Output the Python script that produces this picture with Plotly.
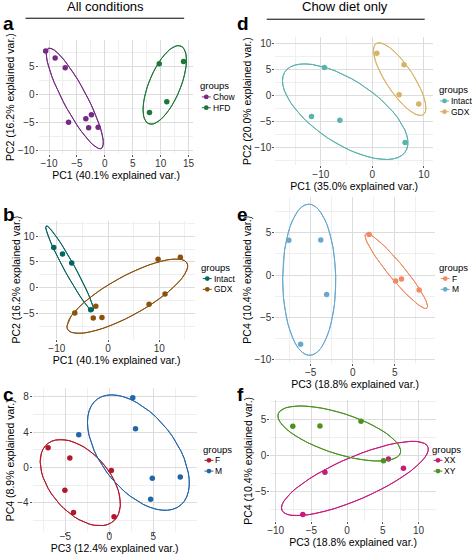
import numpy as np
import plotly.graph_objects as go

W, H = 472, 556

# ---------------- data ----------------
# All conditions, PC1 / PC2 (12 samples)
pc1_all = [-10.6, -8.9, -7.1, -6.5, -3.4, -2.4, -2.9, -1.2, 8.0, 9.75, 11.1, 14.1]
pc2_all = [7.8, 6.55, 4.8, -4.9, -4.3, -3.6, -5.9, -5.8, -3.2, 5.5, -1.25, 5.9]
diet_all = ["Chow", "Chow", "Chow", "Chow", "Chow", "Chow", "Chow", "Chow",
            "HFD", "HFD", "HFD", "HFD"]
gonad_all = ["Intact", "Intact", "Intact", "GDX", "Intact", "GDX", "GDX", "GDX",
             "GDX", "GDX", "GDX", "GDX"]

# All conditions, PC3 / PC4
pc3_all = [-6.97, -4.5, 0.22, -5.06, -4.08, 0.53, -3.48, 2.66, 2.97, 4.88, 4.69, 8.06]
pc4_all = [2.25, 1.08, -0.34, -2.56, -5.07, -5.57, 3.72, 7.9, 4.4, -1.2, -3.57, -1.06]
sex_all = ["F", "F", "F", "F", "F", "F", "M", "M", "M", "M", "M", "M"]

# Chow diet only, PC1 / PC2 (8 samples)
pc1_chow = [-9.3, -11.8, -6.3, 6.35, 0.87, 6.15, 5.2, 9.0]
pc2_chow = [5.4, -4.06, -4.8, -9.1, 8.15, 5.95, 0.15, -1.65]
gonad_chow = ["Intact", "Intact", "Intact", "Intact", "GDX", "GDX", "GDX", "GDX"]

# Chow diet only, PC3 / PC4
pc3_chow = [-7.6, -3.8, -3.1, -6.2, 1.95, 5.1, 5.8, 7.9]
pc4_chow = [4.1, 4.15, -2.3, -8.2, 4.8, -0.7, -0.47, -1.76]
sex_chow = ["M", "M", "M", "M", "F", "F", "F", "F"]
chrom_chow = ["XY", "XY", "XX", "XX", "XY", "XY", "XX", "XX"]

# ---------------- panel settings ----------------
panels = [
    dict(letter="a", x=pc1_all, y=pc2_all, g=diet_all, levels=["Chow", "HFD"],
         colors=["#762a83", "#1b7837"], xt="PC1 (40.1% explained var.)",
         yt="PC2 (16.2% explained var.)", origin=(102.7, 95.0), ppu=5.63,
         xd=5, yd=5, leg=(199, 86), lpos=(0, 28), lab_off=-2),
    dict(letter="b", x=pc1_all, y=pc2_all, g=gonad_all, levels=["Intact", "GDX"],
         colors=["#01665e", "#8c510a"], xt="PC1 (40.1% explained var.)",
         yt="PC2 (16.2% explained var.)", origin=(106.0, 288.7), ppu=5.17,
         xd=10, yd=5, leg=(200, 268.3), lpos=(0, 220), lab_off=-2),
    dict(letter="c", x=pc3_all, y=pc4_all, g=sex_all, levels=["F", "M"],
         colors=["#b2182b", "#2166ac"], xt="PC3 (12.4% explained var.)",
         yt="PC4 (8.9% explained var.)", origin=(107.3, 469.3), ppu=8.87,
         xd=5, yd=4, leg=(201.7, 450.7), lpos=(0, 400), lab_off=-7),
    dict(letter="d", x=pc1_chow, y=pc2_chow, g=gonad_chow, levels=["Intact", "GDX"],
         colors=["#5ab4ac", "#d8b365"], xt="PC1 (35.0% explained var.)",
         yt="PC2 (20.0% explained var.)", origin=(372.5, 95.8), ppu=5.2,
         xd=10, yd=5, leg=(439.3, 90), lpos=(236, 28), lab_off=-2),
    dict(letter="e", x=pc3_chow, y=pc4_chow, g=sex_chow, levels=["F", "M"],
         colors=["#ef8a62", "#67a9cf"], xt="PC3 (18.8% explained var.)",
         yt="PC4 (10.4% explained var.)", origin=(352.7, 276.0), ppu=8.48,
         xd=5, yd=5, leg=(440, 268.3), lpos=(236, 220), lab_off=-2),
    dict(letter="f", x=pc3_chow, y=pc4_chow, g=chrom_chow, levels=["XX", "XY"],
         colors=["#c51b7d", "#4d9221"], xt="PC3 (18.8% explained var.)",
         yt="PC4 (10.4% explained var.)", origin=(347.0, 457.3), ppu=7.2,
         xd=5, yd=5, leg=(432.7, 450.7), lpos=(236, 400), lab_off=-2),
]

FONT = "Liberation Sans, Arial, sans-serif"


def ellipse(xs, ys, prob=0.68):
    pts = np.column_stack([xs, ys])
    mu = pts.mean(axis=0)
    sigma = np.cov(pts, rowvar=False)
    L = np.linalg.cholesky(sigma)
    theta = np.concatenate([np.linspace(-np.pi, np.pi, 50), np.linspace(np.pi, -np.pi, 50)])
    circle = np.column_stack([np.cos(theta), np.sin(theta)])
    ed = np.sqrt(-2.0 * np.log(1.0 - prob))
    e = circle @ L.T * ed + mu
    return e[:, 0], e[:, 1]


def px(x):
    return x / W


def py(y):
    return 1 - y / H


fig = go.Figure()
layout = dict(width=W, height=H, margin=dict(l=0, r=0, t=0, b=0),
              paper_bgcolor="white", plot_bgcolor="white", showlegend=False,
              font=dict(family=FONT, color="black"))
annotations = []
shapes = []

for i, p in enumerate(panels, start=1):
    xa = "x" if i == 1 else f"x{i}"
    ya = "y" if i == 1 else f"y{i}"
    xs_all, ys_all = list(p["x"]), list(p["y"])
    X = np.array(p["x"])
    Y = np.array(p["y"])
    G = np.array(p["g"])
    for lev, col in zip(p["levels"], p["colors"]):
        m = G == lev
        ex, ey = ellipse(X[m], Y[m])
        xs_all += list(ex)
        ys_all += list(ey)
        fig.add_trace(go.Scatter(x=ex, y=ey, mode="lines", xaxis=xa, yaxis=ya,
                                 line=dict(color=col, width=1), hoverinfo="skip",
                                 name=lev))
        fig.add_trace(go.Scatter(x=X[m], y=Y[m], mode="markers", xaxis=xa, yaxis=ya,
                                 marker=dict(color=col, size=5.5), name=lev))
    lo, hi = min(xs_all), max(xs_all)
    pad = 0.05 * (hi - lo)
    xr = [lo - pad, hi + pad]
    lo, hi = min(ys_all), max(ys_all)
    pad = 0.05 * (hi - lo)
    yr = [lo - pad, hi + pad]
    ox, oy = p["origin"]
    k = p["ppu"]
    xdom = [px(ox + xr[0] * k), px(ox + xr[1] * k)]
    ydom = [py(oy - yr[0] * k), py(oy - yr[1] * k)]
    common = dict(showline=False, zeroline=False, showgrid=True,
                  gridcolor="#dcdcdc", gridwidth=0.8,
                  ticks="outside", ticklen=2, tickwidth=0.8, tickcolor="#555",
                  tickfont=dict(size=10, color="#333", family=FONT),
                  tick0=0)
    layout["xaxis" if i == 1 else f"xaxis{i}"] = dict(
        common, domain=xdom, range=xr, anchor=ya, dtick=p["xd"],
        ticklabelstandoff=p["lab_off"],
        minor=dict(dtick=p["xd"] / 2, tick0=0, showgrid=True, gridcolor="#efefef",
                   gridwidth=0.6, ticklen=0),
        title=dict(text=p["xt"], font=dict(size=10.5, family=FONT), standoff=2))
    layout["yaxis" if i == 1 else f"yaxis{i}"] = dict(
        common, domain=ydom, range=yr, anchor=xa, dtick=p["yd"], ticklabelstandoff=-1,
        minor=dict(dtick=p["yd"] / 2, tick0=0, showgrid=True, gridcolor="#efefef",
                   gridwidth=0.6, ticklen=0),
        title=dict(text=p["yt"], font=dict(size=10.5, family=FONT), standoff=0))

    # panel letter
    lx, ly = p["lpos"]
    annotations.append(dict(text=f"<b>{p['letter']}</b>", x=px(lx - 2), y=py(ly + 8),
                            xref="paper", yref="paper", xanchor="left", yanchor="bottom",
                            showarrow=False, font=dict(size=19, family=FONT)))
    # legend
    gx, gy = p["leg"]
    annotations.append(dict(text="groups", x=px(gx - 2), y=py(gy), xref="paper", yref="paper",
                            xanchor="left", yanchor="middle", showarrow=False,
                            font=dict(size=9.5, family=FONT)))
    for j, (lev, col) in enumerate(zip(p["levels"], p["colors"])):
        iy = gy + 11.3 + 10.8 * j
        kx = gx + 6
        shapes.append(dict(type="line", xref="paper", yref="paper",
                           x0=px(kx - 4.5), x1=px(kx + 4.5), y0=py(iy), y1=py(iy),
                           line=dict(color=col, width=1)))
        shapes.append(dict(type="circle", xref="paper", yref="paper",
                           x0=px(kx - 2.4), x1=px(kx + 2.4), y0=py(iy - 2.4), y1=py(iy + 2.4),
                           fillcolor=col, line=dict(color=col, width=0)))
        annotations.append(dict(text=lev, x=px(kx + 4.5), y=py(iy), xref="paper", yref="paper",
                                xanchor="left", yanchor="middle", showarrow=False,
                                font=dict(size=8.5, family=FONT)))

# column headers
for text, cx, y_line, x0, x1 in [("All conditions", 103, 18.3, 22.7, 182.7),
                                 ("Chow diet only", 345, 19.3, 266, 425.3)]:
    annotations.append(dict(text=text, x=px(cx), y=py(6.5), xref="paper", yref="paper",
                            xanchor="center", yanchor="middle", showarrow=False,
                            font=dict(size=13, family=FONT)))
    shapes.append(dict(type="line", xref="paper", yref="paper", x0=px(x0), x1=px(x1),
                       y0=py(y_line), y1=py(y_line), line=dict(color="black", width=1)))

layout["annotations"] = annotations
layout["shapes"] = shapes
fig.update_layout(**layout)
fig.write_html("out.html", config={"displayModeBar": False},
               post_script="document.body.style.margin='0';document.body.style.padding='0';")
